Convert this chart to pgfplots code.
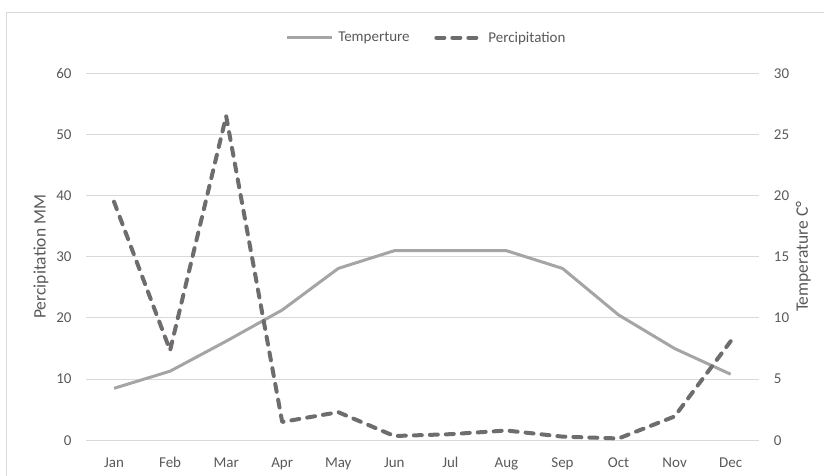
\documentclass[border=0pt]{standalone}
\usepackage{fontspec}
\setmainfont{Carlito}
\usepackage{pgfplots}
\usepackage{pgfplotstable}
\pgfplotsset{compat=1.18}

\definecolor{textgray}{HTML}{595959}
\definecolor{gridgray}{HTML}{D9D9D9}
\definecolor{tempgray}{HTML}{A5A5A5}
\definecolor{raingray}{HTML}{706C6C}

% monthly climate: temperature (deg C) and precipitation (mm)
\pgfplotstableread{
m  temp   rain
0  4.25   39.0
1  5.65   14.7
2  8.1    53.0
3  10.65  3.0
4  14.05  4.6
5  15.5   0.7
6  15.5   1.0
7  15.5   1.6
8  14.05  0.6
9  10.25  0.3
10 7.5    3.9
11 5.4    16.2
}\climate

\pgfplotsset{
  base/.style={
    scale only axis, width=672.7pt, height=367pt,
    xmin=-0.5, xmax=11.5,
    axis line style={draw=none},
    major tick length=0pt,
    tick label style={font=\fontsize{15}{18}\selectfont, text=textgray},
    /pgf/number format/assume math mode=true,
  }
}

\begin{document}
\begin{tikzpicture}
\useasboundingbox (0pt,0pt) rectangle (824pt,475pt);
\draw[gridgray, line width=1.2pt] (6.7pt,-20pt) rectangle (850pt,462.3pt);

% temperature on the right-hand axis, with the grid and month labels
\begin{axis}[base, at={(86pt,34.7pt)}, anchor=south west,
  ymin=0, ymax=30, ytick={0,5,...,30},
  ytick pos=right, yticklabel pos=right,
  ymajorgrids, grid style={gridgray, line width=1pt},
  xtick={0,...,11},
  xticklabels={Jan,Feb,Mar,Apr,May,Jun,Jul,Aug,Sep,Oct,Nov,Dec},
  xticklabel style={inner sep=0pt, anchor=north, text height=10pt, text depth=3pt},
  xticklabel shift=17pt,
  yticklabel style={inner sep=0pt, anchor=west},
  yticklabel shift=15pt,
  every axis y label/.style={at={(axis description cs:1,0.5)}, xshift=44.5pt, rotate=90,
    anchor=center, font=\fontsize{17.5}{21}\selectfont, text=textgray},
  ylabel={Temperature C°},
]
\addplot[tempgray, line width=3pt, line join=round] table[x=m, y=temp]{\climate};
\end{axis}

% precipitation on the left-hand axis, with the legend
\begin{axis}[base, at={(86pt,34.7pt)}, anchor=south west,
  ymin=0, ymax=60, ytick={0,10,...,60},
  ytick pos=left,
  xtick=\empty,
  yticklabel style={inner sep=0pt, anchor=east},
  yticklabel shift=14.3pt,
  every axis y label/.style={at={(axis description cs:0,0.5)}, xshift=-45pt, rotate=90,
    anchor=center, font=\fontsize{17.5}{21}\selectfont, text=textgray},
  ylabel={Percipitation MM},
  legend columns=-1,
  legend image code/.code={\draw[#1] (0pt,0pt) -- (45pt,0pt);},
  legend style={at={(axis description cs:0.5,1)}, anchor=center, yshift=35.6pt, xshift=3pt,
    draw=none, fill=none, inner sep=0pt,
    font=\fontsize{15}{18}\selectfont, text=textgray,
    nodes={inner sep=0pt},
    /tikz/every odd column/.append style={column sep=5pt},
    /tikz/every even column/.append style={column sep=24.7pt}},
]
\addlegendimage{tempgray, line width=3pt}
\addlegendentry{Temperture}
\addplot[raingray, line width=4pt, dash pattern=on 8pt off 8pt, line cap=round, line join=round]
  table[x=m, y=rain]{\climate};
\addlegendentry{Percipitation}
\end{axis}
\end{tikzpicture}
\end{document}
